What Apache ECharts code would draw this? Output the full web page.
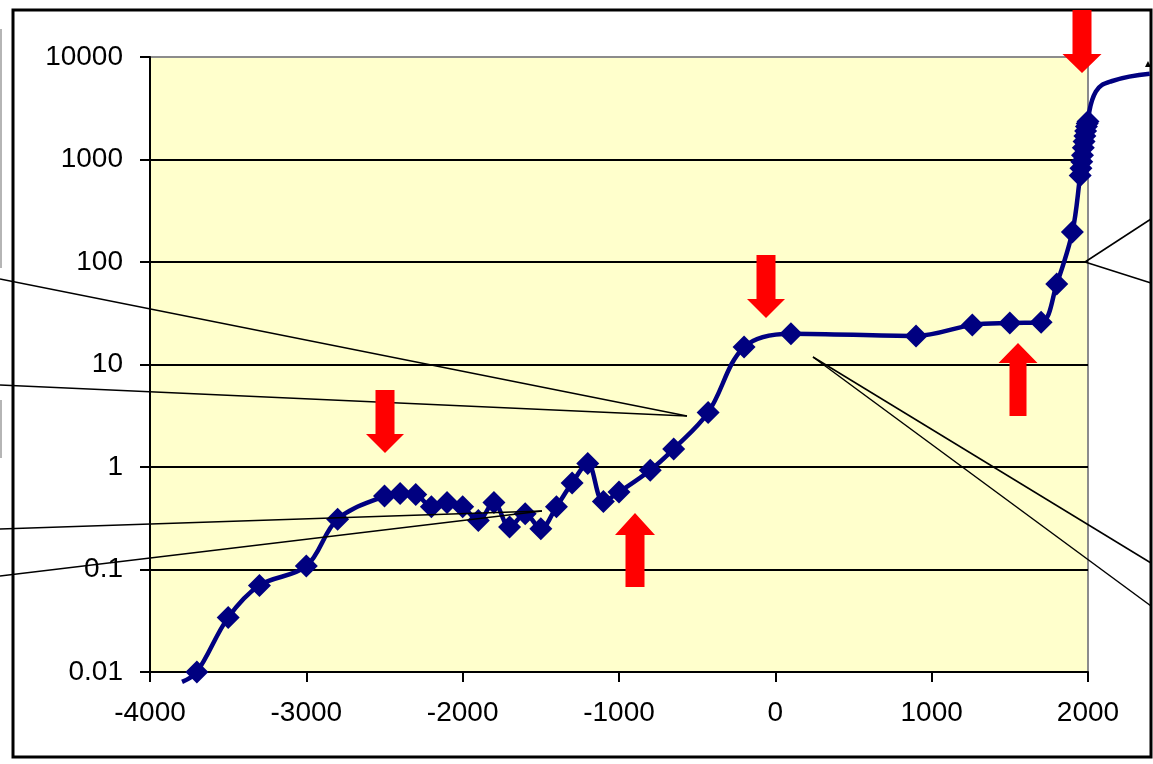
<!DOCTYPE html>
<html>
<head>
<meta charset="utf-8">
<script src="https://cdn.jsdelivr.net/npm/echarts@6/dist/echarts.min.js"></script>
<style>
html,body{margin:0;padding:0;background:#fff;}
#c{width:1153px;height:764px;}
</style>
</head>
<body>
<div id="c"></div>
<script>
// ---- data ----
var years = [-3700,-3500,-3300,-3000,-2800,-2500,-2400,-2300,-2200,-2100,-2000,-1900,-1800,-1700,-1600,-1500,-1400,-1300,-1200,-1100,-1000,-800,-650,-430,-200,100,900,1260,1500,1700,1800,1900,1950,1955,1960,1965,1970,1975,1980,1985,1990,1995,2000];
var values = [0.01,0.034,0.07,0.108,0.31,0.52,0.55,0.54,0.41,0.45,0.41,0.30,0.45,0.26,0.35,0.25,0.41,0.70,1.08,0.46,0.57,0.93,1.5,3.4,14.8,20,19,24.3,25.4,25.8,61,196,700,820,950,1100,1300,1500,1700,1900,2100,2250,2350];
// line continues without markers outside the drawn axis range
var headYears = [-3795];
var headValues = [0.008];
var tailYears = [2000,2050,2150,2395];
var tailValues = [2350,4600,5800,6850];
var xTickLabels = ['-4000','-3000','-2000','-1000','0','1000','2000'];
var yTickLabels = ['0.01','0.1','1','10','100','1000','10000'];

var mainData = [];
headYears.forEach(function(x,i){ mainData.push({value:[x, headValues[i]], symbol:'none'}); });
years.forEach(function(x,i){ mainData.push({value:[x, values[i]]}); });
var tailData = tailYears.map(function(x,i){ return [x, tailValues[i]]; });

var chart = echarts.init(document.getElementById('c'), null, {renderer:'canvas'});

function arrow(tx, ty, dir, len, headLen, shaftW, headW){
  var s = dir;
  var baseY = ty - s*len, neckY = ty - s*headLen;
  return {
    type:'polygon', z:100,
    shape:{points:[
      [tx - shaftW/2, baseY],[tx + shaftW/2, baseY],[tx + shaftW/2, neckY],
      [tx + headW/2, neckY],[tx, ty],[tx - headW/2, neckY],[tx - shaftW/2, neckY]
    ]},
    style:{fill:'#FF0000'}
  };
}
function seg(x1,y1,x2,y2){
  return {type:'line', z:90, shape:{x1:x1,y1:y1,x2:x2,y2:y2}, style:{stroke:'#000', lineWidth:1.5}};
}

var FONT = 'Liberation Sans';
var GL = 150, GT = 57, GW = 938, GH = 615;
var XMIN = -4000, XMAX = 2000, XMAX2 = 2400;

var option = {
  animation:false,
  backgroundColor:'#ffffff',
  grid:[
    {left:GL, top:GT, width:GW, height:GH, show:true, backgroundColor:'#FFFFCC', borderColor:'#8c8c8c', borderWidth:2},
    {left:GL, top:GT, width:GW*(XMAX2-XMIN)/(XMAX-XMIN), height:GH, show:false}
  ],
  xAxis:[{
    type:'value', min:XMIN, max:XMAX, interval:1000,
    axisLine:{show:true, onZero:false, lineStyle:{color:'#000', width:2}},
    axisTick:{show:true, inside:false, length:10, lineStyle:{color:'#000', width:2}},
    splitLine:{show:false},
    axisLabel:{margin:27, fontFamily:FONT, fontSize:28, color:'#000',
      formatter:function(v){ var i = Math.round((v-XMIN)/1000); return xTickLabels[i] !== undefined ? xTickLabels[i] : String(v); }}
  },{
    gridIndex:1, type:'value', min:XMIN, max:XMAX2, show:false
  }],
  yAxis:[{
    type:'log', logBase:10, min:0.01, max:10000,
    axisLine:{show:true, onZero:false, lineStyle:{color:'#000', width:2}},
    axisTick:{show:true, inside:false, length:10, lineStyle:{color:'#000', width:2}},
    splitLine:{show:true, lineStyle:{color:['#000','#000','#000','#000','#000','#000','#8c8c8c'], width:2}},
    axisLabel:{margin:27, fontFamily:FONT, fontSize:28, color:'#000',
      formatter:function(v){ var i = Math.round(Math.log(v)/Math.LN10)+2; return yTickLabels[i] !== undefined ? yTickLabels[i] : String(v); }}
  },{
    gridIndex:1, type:'log', logBase:10, min:0.01, max:10000, show:false
  }],
  series:[{
    type:'line', data:mainData, clip:false, smooth:0.35,
    symbol:'diamond', symbolSize:23,
    lineStyle:{color:'#000080', width:4.5},
    itemStyle:{color:'#000080'},
    z:5
  },{
    type:'line', xAxisIndex:1, yAxisIndex:1, data:tailData, clip:false, smooth:0.45,
    symbol:'none',
    lineStyle:{color:'#000080', width:4.5},
    z:4
  }],
  graphic:[
    {type:'rect', z:-10, shape:{x:13, y:10, width:1138, height:747}, style:{fill:null, stroke:'#000', lineWidth:3}},
    {type:'line', z:-10, shape:{x1:1,y1:29,x2:1,y2:268}, style:{stroke:'#b5b5b5', lineWidth:2}},
    {type:'line', z:-10, shape:{x1:1,y1:400,x2:1,y2:458}, style:{stroke:'#b5b5b5', lineWidth:2}},
    seg(0,279,687,416), seg(0,385,687,416),
    seg(0,529,542,511), seg(0,576,542,511),
    seg(1085,262,1151,219), seg(1085,262,1151,283),
    seg(813,357,1151,563), seg(813,357,1151,606),
    {type:'polygon', z:90, shape:{points:[[1145,67],[1151,67],[1148,61]]}, style:{fill:'#000'}},
    arrow(385,453,1,63,19,19,38),
    arrow(766,318,1,63,19,19,38),
    arrow(635,513,-1,74,22,19,40),
    arrow(1018,343,-1,73,20,17,39),
    arrow(1082,73,1,63,19,19,39)
  ]
};
chart.setOption(option);
</script>
</body>
</html>
